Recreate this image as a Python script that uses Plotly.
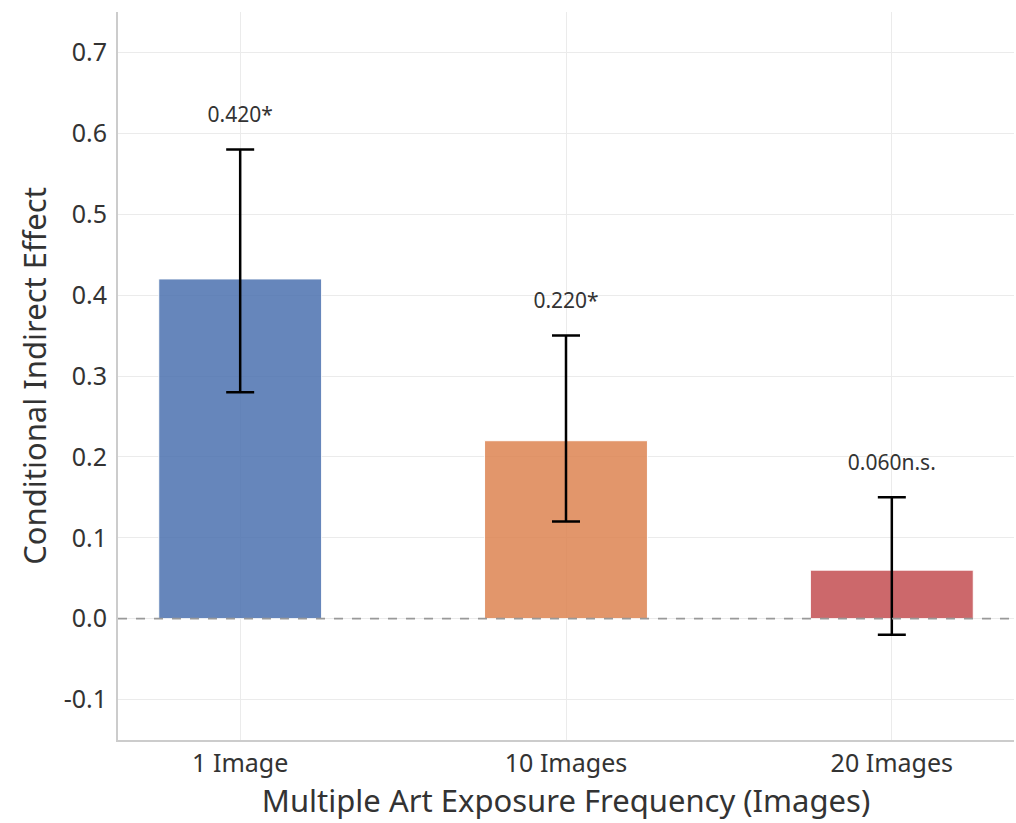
import plotly.graph_objects as go

categories = ["1 Image", "10 Images", "20 Images"]
effects = [0.42, 0.22, 0.06]
ci_low = [0.28, 0.12, -0.02]
ci_high = [0.58, 0.35, 0.15]
sig = ["*", "*", "n.s."]
colors = ["#4c72b0", "#dd8452", "#c44e52"]
y_ticks = [-0.1, 0.0, 0.1, 0.2, 0.3, 0.4, 0.5, 0.6, 0.7]

FONT = "Noto Sans"
TXT = "#333333"

fig = go.Figure()
fig.add_trace(go.Bar(
    x=categories, y=effects,
    width=0.5,
    marker=dict(color=colors, opacity=0.85, line=dict(color="white", width=1)),
    error_y=dict(type="data", symmetric=False,
                 array=[h - e for h, e in zip(ci_high, effects)],
                 arrayminus=[e - l for e, l in zip(effects, ci_low)],
                 color="black", thickness=2.5, width=14),
    showlegend=False,
))

fig.add_trace(go.Scatter(
    x=categories, y=[h + 0.04 for h in ci_high],
    mode="text",
    text=[f"{e:.3f}{s}" for e, s in zip(effects, sig)],
    textfont=dict(family=FONT, size=21, color=TXT),
    showlegend=False,
))

fig.add_hline(y=0, line=dict(color="#999999", width=1.8, dash="dash"))

fig.update_layout(
    width=1016, height=823,
    margin=dict(l=118, r=2, t=12, b=83),
    plot_bgcolor="white", paper_bgcolor="white",
    font=dict(family=FONT, color=TXT),
    xaxis=dict(
        range=[-0.375, 2.375],
        showgrid=True, gridcolor="#ebebeb", gridwidth=1,
        showline=True, linecolor="#cccccc", linewidth=2,
        ticks="", tickfont=dict(size=25, color=TXT),
        title=dict(text="Multiple Art Exposure Frequency (Images)",
                   font=dict(size=31, color=TXT), standoff=6),
    ),
    yaxis=dict(
        range=[-0.15, 0.75],
        tickvals=y_ticks, ticktext=[f"{v:.1f}" for v in y_ticks],
        showgrid=True, gridcolor="#ebebeb", gridwidth=1,
        zeroline=False,
        showline=True, linecolor="#cccccc", linewidth=2,
        ticks="", tickfont=dict(size=25, color=TXT),
        ticklabelstandoff=4,
        title=dict(text="Conditional Indirect Effect",
                   font=dict(size=31, color=TXT), standoff=8),
    ),
)

fig.write_html("out.html")
